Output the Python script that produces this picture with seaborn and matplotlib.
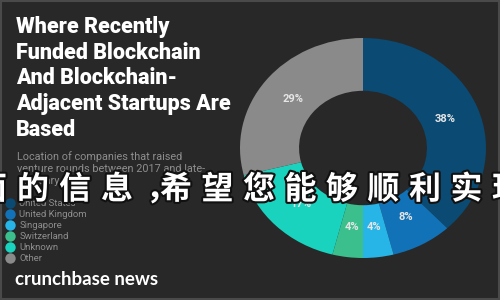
import matplotlib
matplotlib.use("Agg")
import matplotlib.pyplot as plt
import matplotlib.patheffects as pe
from matplotlib.lines import Line2D
from matplotlib.patches import Rectangle
import seaborn as sns

# ---- data ----
countries = ["United States", "United Kingdom", "Singapore", "Switzerland", "Unknown", "Other"]
shares = [38, 8, 4, 4, 17, 29]
slice_colors = ["#0b4a72", "#1172b8", "#27b4e6", "#3bbf8c", "#1ad3be", "#8a8a8a"]
title_lines = ["Where Recently", "Funded Blockchain", "And Blockchain-",
               "Adjacent Startups Are", "Based"]
subtitle_lines = ["Location of companies that raised",
                  "venture rounds between 2017 and late-",
                  "February 2018"]
brand = "crunchbase news"
overlay_chars = list("面的信息，希望您能够顺利实现")

BG = "#282828"
sns.set_theme(style="dark", rc={"figure.facecolor": BG, "axes.facecolor": BG,
                                "savefig.facecolor": BG})
plt.rcParams["font.family"] = ["Roboto", "DejaVu Sans"]
palette = sns.color_palette(slice_colors)

fig = plt.figure(figsize=(5, 3), dpi=100, facecolor=BG)

# background / text layer in pixel coordinates
bg = fig.add_axes([0, 0, 1, 1])
bg.set_xlim(0, 500)
bg.set_ylim(300, 0)
bg.axis("off")
bg.add_patch(Rectangle((0.5, 0.5), 498.5, 298.5, fill=False, edgecolor="#4a4a4a", lw=1.5))

for i, line in enumerate(title_lines):
    bg.text(16, 33 + i * 25.7, line, color="white", fontsize=15.5, fontweight="heavy",
            va="baseline", ha="left")
for i, line in enumerate(subtitle_lines):
    bg.text(17, 160 + i * 11.8, line, color="#8e8e8e", fontsize=7.8,
            va="baseline", ha="left")

handles = [Line2D([], [], marker="o", ls="none", markersize=7.5,
                  markerfacecolor=c, markeredgecolor="none") for c in palette]
bg.legend(handles, countries, loc="upper left", bbox_to_anchor=(6, 199),
          bbox_transform=bg.transData, frameon=False, fontsize=6.8,
          labelcolor="#8e8e8e", handlelength=0.9, handletextpad=0.5,
          labelspacing=0.22, borderpad=0, borderaxespad=0)

bg.text(15, 285, brand, color="white", fontsize=13.5, fontweight="bold",
        family=["Lato", "DejaVu Sans"], va="baseline", ha="left")

# donut (slightly stretched horizontally as in the reference)
ax = fig.add_axes([240 / 500, 42 / 300, 246 / 500, 220 / 300])
ax.pie(shares, colors=palette, startangle=90, counterclock=False, radius=1,
       wedgeprops=dict(width=0.48, linewidth=0, edgecolor="none"),
       autopct=lambda p: f"{round(p)}%", pctdistance=0.72,
       textprops=dict(color="#e6e6e6", fontsize=8, fontweight="bold"))
ax.set_aspect("auto")
ax.set_xlim(-1, 1)
ax.set_ylim(-1, 1)
ax.axis("off")

# overlay caption layer
ov = fig.add_axes([0, 0, 1, 1], zorder=10)
ov.set_xlim(0, 500)
ov.set_ylim(300, 0)
ov.axis("off")
ov.patch.set_alpha(0)
cn_style = dict(color="white", fontsize=23, fontweight="heavy",
                family=["Noto Sans CJK SC", "DejaVu Sans"], ha="center", va="center",
                path_effects=[pe.withStroke(linewidth=3, foreground="#111111")])
x = -9
for ch in overlay_chars:
    if ch == "，":
        ov.text(162, 190, ch, **cn_style)
        x = 176
        continue
    ov.text(x, 190, ch, **cn_style)
    x += 42.0 if x < 176 else 41.5

fig.savefig("out.png", dpi=100, facecolor=BG)
